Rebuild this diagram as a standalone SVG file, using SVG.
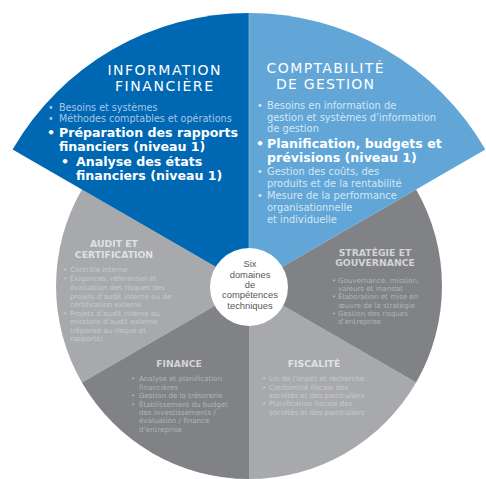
<svg xmlns="http://www.w3.org/2000/svg" width="486" height="479" viewBox="0 0 486 479">
<style>
text{font-family:"DejaVu Sans","Liberation Sans",sans-serif}
.ttl{font-size:14px;fill:#ffffff;text-anchor:middle}
.gt{font-size:9.3px;font-weight:bold;text-anchor:middle}
.b1{font-size:9.6px;fill:#a9c6e6}
.b2{font-size:9.9px;fill:#d3e6f4}
.bb{font-size:12.6px;font-weight:bold;fill:#ffffff}
.sm{font-size:7.1px}
.lg .gt{fill:#e0e1e2}
.lg .sm{fill:#c9cacc}
.dg .gt{fill:#d3d4d6}
.dg .sm{fill:#b3b4b6}
.ctr{font-family:"Liberation Sans",Arial,sans-serif;font-size:9.4px;fill:#58595b;text-anchor:middle}
</style>

<g id="audit" class="lg">
<path d="M249,286 L81.9,189.5 A193,193 0 0 0 81.9,382.5 Z" fill="#a7a9ac"/>
<text class="gt" x="114" y="247">AUDIT ET</text>
<text class="gt" x="114" y="257.5">CERTIFICATION</text>
<g class="sm">
<text x="63" y="272">•</text><text x="70" y="272">Contrôle interne</text>
<text x="63" y="281">•</text><text x="70" y="281">Exigences, référentiel et</text>
<text x="70" y="290">évaluation des risques des</text>
<text x="70" y="298.5">projets d’audit interne ou de</text>
<text x="70" y="307">certification externe</text>
<text x="63" y="315.5">•</text><text x="70" y="315.5">Projets d’audit interne ou</text>
<text x="70" y="324">missions d’audit externe</text>
<text x="70" y="332.5">(réponse au risque et</text>
<text x="70" y="341">rapports)</text>
</g>
</g>

<g id="finance" class="dg">
<path d="M249,286 L81.9,382.5 A193,193 0 0 0 249,479 Z" fill="#808285"/>
<text class="gt" x="179" y="367">FINANCE</text>
<g class="sm">
<text x="131" y="381">•</text><text x="139" y="381">Analyse et planification</text>
<text x="139" y="389.5">financières</text>
<text x="131" y="398">•</text><text x="139" y="398">Gestion de la trésorerie</text>
<text x="131" y="406.5">•</text><text x="139" y="406.5">Établissement du budget</text>
<text x="139" y="415">des investissements /</text>
<text x="139" y="423">évaluation / finance</text>
<text x="139" y="431.5">d’entreprise</text>
</g>
</g>

<g id="fiscalite" class="lg">
<path d="M249,286 L249,479 A193,193 0 0 0 416.1,382.5 Z" fill="#a7a9ac"/>
<text class="gt" x="314" y="367">FISCALITÉ</text>
<g class="sm">
<text x="262" y="381">•</text><text x="269" y="381">Loi de l’impôt et recherche</text>
<text x="262" y="389.5">•</text><text x="269" y="389.5">Conformité fiscale des</text>
<text x="269" y="398">sociétés et des particuliers</text>
<text x="262" y="406">•</text><text x="269" y="406">Planification fiscale des</text>
<text x="269" y="414.5">sociétés et des particuliers</text>
</g>
</g>

<g id="strategie" class="dg">
<path d="M249,286 L416.1,382.5 A193,193 0 0 0 416.1,189.5 Z" fill="#808285"/>
<text class="gt" x="375" y="256">STRATÉGIE ET</text>
<text class="gt" x="375" y="266">GOUVERNANCE</text>
<g class="sm">
<text x="332" y="283">•</text><text x="338" y="283">Gouvernance, mission,</text>
<text x="338" y="291">valeurs et mandat</text>
<text x="332" y="299">•</text><text x="338" y="299">Élaboration et mise en</text>
<text x="338" y="307.5">œuvre de la stratégie</text>
<text x="332" y="316">•</text><text x="338" y="316">Gestion des risques</text>
<text x="338" y="324">d’entreprise</text>
</g>
</g>

<g id="information-financiere">
<path d="M249,286 L12.6,149.5 A273,273 0 0 1 249,13 Z" fill="#0068b3"/>
<text class="ttl" x="164" y="75" textLength="113" lengthAdjust="spacing">INFORMATION</text>
<text class="ttl" x="164" y="91" textLength="98" lengthAdjust="spacing">FINANCIÈRE</text>
<text class="b1" x="48" y="111">•</text><text class="b1" x="59" y="111">Besoins et systèmes</text>
<text class="b1" x="48" y="122">•</text><text class="b1" x="59" y="122">Méthodes comptables et opérations</text>
<text class="bb" x="47" y="137">•</text><text class="bb" x="59" y="137">Préparation des rapports</text>
<text class="bb" x="59" y="151">financiers (niveau 1)</text>
<text class="bb" x="61" y="166">•</text><text class="bb" x="76" y="166">Analyse des états</text>
<text class="bb" x="76" y="180">financiers (niveau 1)</text>
</g>

<g id="comptabilite-gestion">
<path d="M249,286 L249,13 A273,273 0 0 1 485.4,149.5 Z" fill="#62a6d8"/>
<line x1="249" y1="13" x2="249" y2="286" stroke="#9cc6e6" stroke-width="0.6"/>
<text class="ttl" x="325" y="73" textLength="117" lengthAdjust="spacing">COMPTABILITÉ</text>
<text class="ttl" x="325" y="88.5" textLength="98" lengthAdjust="spacing">DE GESTION</text>
<text class="b2" x="257" y="109">•</text><text class="b2" x="267" y="109">Besoins en information de</text>
<text class="b2" x="267" y="121">gestion et systèmes d’information</text>
<text class="b2" x="267" y="132">de gestion</text>
<text class="bb" x="256" y="148">•</text><text class="bb" x="267" y="148">Planification, budgets et</text>
<text class="bb" x="267" y="162">prévisions (niveau 1)</text>
<text class="b2" x="257" y="175">•</text><text class="b2" x="267" y="175">Gestion des coûts, des</text>
<text class="b2" x="267" y="187">produits et de la rentabilité</text>
<text class="b2" x="257" y="199">•</text><text class="b2" x="267" y="199">Mesure de la performance</text>
<text class="b2" x="267" y="211">organisationnelle</text>
<text class="b2" x="267" y="223">et individuelle</text>
</g>

<g id="centre">
<circle cx="249" cy="287" r="39" fill="#ffffff"/>
<text class="ctr" x="250" y="267">Six</text>
<text class="ctr" x="250" y="277.5">domaines</text>
<text class="ctr" x="250" y="288">de</text>
<text class="ctr" x="250" y="298">compétences</text>
<text class="ctr" x="250" y="308.5">techniques</text>
</g>
</svg>
